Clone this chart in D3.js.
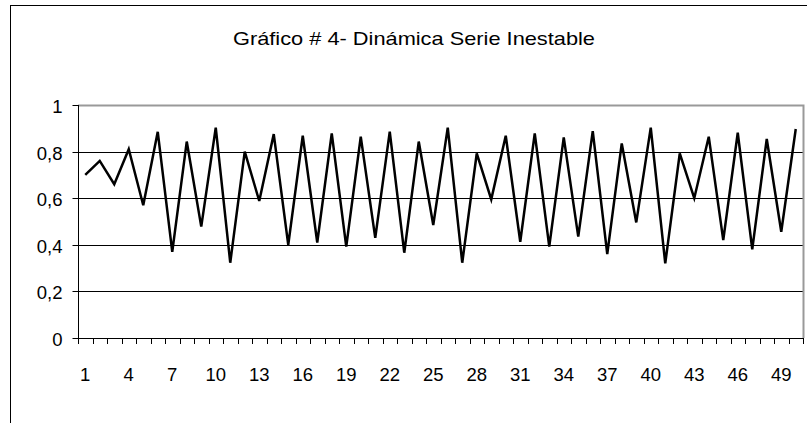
<!DOCTYPE html>
<html>
<head>
<meta charset="utf-8">
<script src="https://cdn.jsdelivr.net/npm/d3@7"></script>
<style>
body { margin: 0; background: #fff; }
text { font-family: "Liberation Sans", Arial, sans-serif; fill: #000; }
</style>
</head>
<body>
<svg id="chart"></svg>
<script>
var width = 807, height = 423

var title = "Gráfico # 4- Dinámica Serie Inestable"
var categories = d3.range(1, 51)
var values = [
    0.70, 0.76, 0.66, 0.81, 0.57, 0.885, 0.37, 0.843, 0.478, 0.903,
    0.323, 0.80, 0.588, 0.875, 0.40, 0.868, 0.41, 0.878, 0.392, 0.864,
    0.43, 0.886, 0.366, 0.843, 0.485, 0.903, 0.323, 0.792, 0.595, 0.868,
    0.413, 0.878, 0.392, 0.861, 0.435, 0.888, 0.36, 0.835, 0.496, 0.903,
    0.32, 0.792, 0.60, 0.864, 0.42, 0.881, 0.38, 0.854, 0.456, 0.897
]
var yTicks = [0, 0.2, 0.4, 0.6, 0.8, 1]
var xLabels = categories.filter(function (d) { return (d - 1) % 3 === 0 })

var svg = d3.select("#chart")
    .attr("width", width)
    .attr("height", height)

// outer chart frame
svg.append("rect")
    .attr("x", 10.5).attr("y", 5.5)
    .attr("width", 820).attr("height", 440)
    .attr("fill", "none").attr("stroke", "#000").attr("stroke-width", 1)

svg.append("text")
    .attr("x", 233).attr("y", 45)
    .attr("textLength", 362)
    .attr("lengthAdjust", "spacingAndGlyphs")
    .style("font-size", "19px")
    .text(title)

var pLeft = 78, pRight = 803, pTop = 105, pBottom = 338

var x = d3.scaleBand()
    .domain(categories)
    .range([pLeft, pRight])
var y = d3.scaleLinear()
    .domain([0, 1])
    .range([pBottom, pTop])

// gridlines
svg.append("g")
    .selectAll("line")
    .data(yTicks.filter(function (d) { return d > 0 && d < 1 }))
    .enter().append("line")
        .attr("x1", pLeft).attr("x2", pRight)
        .attr("y1", function (d) { return Math.round(y(d)) + 0.5 })
        .attr("y2", function (d) { return Math.round(y(d)) + 0.5 })
        .attr("stroke", "#000").attr("stroke-width", 1)

// plot area border (top + right, grey)
svg.append("path")
    .attr("d", "M" + pLeft + "," + (pTop + 0.5) + "H" + (pRight + 0.5) + "V" + pBottom)
    .attr("fill", "none").attr("stroke", "#999").attr("stroke-width", 2)

// y axis
var yAxis = svg.append("g")
    .attr("transform", "translate(" + (pLeft + 0.5) + ",0)")
    .call(d3.axisLeft(y).tickValues(yTicks).tickSize(6).tickPadding(10)
        .tickFormat(function (d) { return String(d).replace(".", ",") }))
yAxis.select(".domain").attr("stroke", "#000").attr("d", "M0," + pTop + "V" + (pBottom + 1))
yAxis.selectAll(".tick").attr("transform", function (d) {
    return "translate(0," + (Math.round(y(d)) + 0.5) + ")"
})
yAxis.selectAll("text")
    .style("font-size", "18.5px")
    .style("font-family", "'Liberation Sans', Arial, sans-serif")
    .attr("x", -16)
    .attr("dy", "0.4em")

// x axis: ticks between categories
var boundaries = d3.range(0, 51).map(function (i) { return pLeft + i * x.bandwidth() })
var xAxis = svg.append("g")
xAxis.append("line")
    .attr("x1", pLeft).attr("x2", pRight + 1)
    .attr("y1", pBottom + 0.5).attr("y2", pBottom + 0.5)
    .attr("stroke", "#000")
xAxis.selectAll(".tick")
    .data(boundaries)
    .enter().append("line")
        .attr("x1", function (d) { return Math.round(d) + 0.5 })
        .attr("x2", function (d) { return Math.round(d) + 0.5 })
        .attr("y1", pBottom).attr("y2", pBottom + 6)
        .attr("stroke", "#000")
xAxis.selectAll("text")
    .data(xLabels)
    .enter().append("text")
        .attr("x", function (d) { return x(d) + x.bandwidth() / 2 })
        .attr("y", 381)
        .attr("text-anchor", "middle")
        .style("font-size", "18.5px")
        .text(function (d) { return d })

// series line
var line = d3.line()
    .x(function (d, i) { return x(categories[i]) + x.bandwidth() / 2 })
    .y(function (d) { return y(d) })
svg.append("path")
    .datum(values)
    .attr("d", line)
    .attr("fill", "none")
    .attr("stroke", "#000")
    .attr("stroke-width", 2.5)
    .attr("stroke-linejoin", "miter")
</script>
</body>
</html>
